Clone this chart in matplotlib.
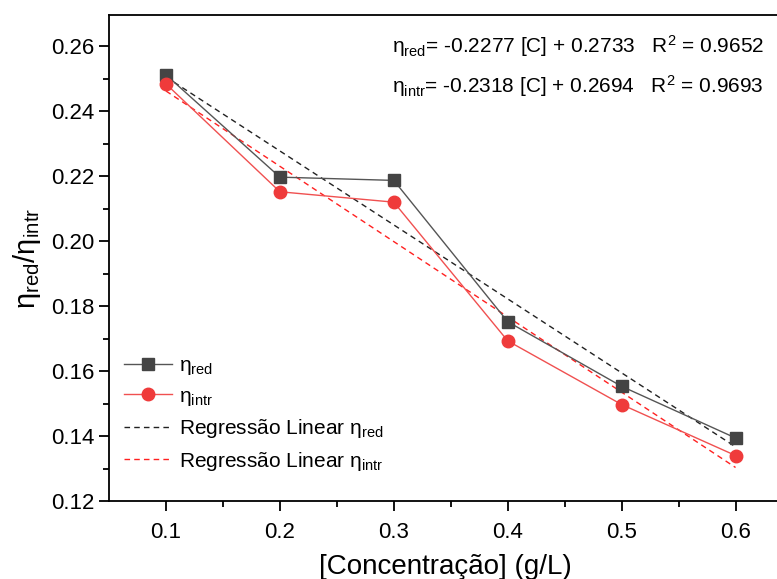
import matplotlib
matplotlib.use("Agg")
import matplotlib.pyplot as plt
import numpy as np

plt.rcParams['font.family'] = ['Liberation Sans', 'DejaVu Sans']
plt.rcParams['mathtext.fontset'] = 'custom'
plt.rcParams['mathtext.rm'] = 'Liberation Sans'
plt.rcParams['mathtext.it'] = 'Liberation Sans:italic'

conc = [0.1, 0.2, 0.3, 0.4, 0.5, 0.6]
eta_red = [0.2512, 0.2197, 0.2187, 0.1752, 0.1553, 0.1394]
eta_intr = [0.2484, 0.2152, 0.2120, 0.1693, 0.1497, 0.1340]

# linear fits from the equations on the chart
red_slope, red_icpt, red_r2 = -0.2277, 0.2733, 0.9652
intr_slope, intr_icpt, intr_r2 = -0.2318, 0.2694, 0.9693

x = np.array(conc)
RED = r'η$_{\rm red}$'
INTR = r'η$_{\rm intr}$'

fig = plt.figure(figsize=(7.77, 5.79), dpi=100)
ax = fig.add_axes([0.1403, 0.1347, 0.865, 0.8393])

ax.plot(conc, eta_red, color='#555555', lw=1, marker='s', ms=9,
        mfc='#444444', mec='#444444', label=RED, zorder=4)
ax.plot(conc, eta_intr, color='#f05050', lw=1, marker='o', ms=9,
        mfc='#ef3b3b', mec='#ef3b3b', label=INTR, zorder=4)
ax.plot(x, red_slope * x + red_icpt, color='#222222', lw=1, ls=(0, (4, 3)),
        label='Regressão Linear ' + RED, zorder=3)
ax.plot(x, intr_slope * x + intr_icpt, color='#ff2020', lw=1, ls=(0, (4, 3)),
        label='Regressão Linear ' + INTR, zorder=3)

ax.set_xlim(0.05, 0.64)
ax.set_ylim(0.12, 0.2696)
ax.set_xticks(conc)
ax.set_xticks(np.arange(0.15, 0.64, 0.1), minor=True)
ax.set_yticks(np.arange(0.12, 0.261, 0.02))
ax.set_yticks(np.arange(0.13, 0.261, 0.02), minor=True)
ax.xaxis.set_major_formatter(matplotlib.ticker.FormatStrFormatter('%.1f'))
ax.yaxis.set_major_formatter(matplotlib.ticker.FormatStrFormatter('%.2f'))
ax.tick_params(which='major', direction='out', length=7, width=1.3, labelsize=16)
ax.tick_params(which='minor', direction='out', length=4, width=1.3)
ax.tick_params(axis='x', pad=8)
for s in ax.spines.values():
    s.set_linewidth(1.3)
ax.spines['right'].set_visible(False)

ax.set_xlabel('[Concentração] (g/L)', fontsize=20, labelpad=8)
ax.set_ylabel(RED + '/' + INTR, fontsize=21, labelpad=6)

fig.text(0.505, 0.92, RED + '= %.4f [C] + %.4f   R$^2$ = %.4f' % (red_slope, red_icpt, red_r2),
         fontsize=15, ha='left', va='center')
fig.text(0.505, 0.852, INTR + '= %.4f [C] + %.4f   R$^2$ = %.4f' % (intr_slope, intr_icpt, intr_r2),
         fontsize=15, ha='left', va='center')

ax.legend(loc='lower left', bbox_to_anchor=(-0.005, 0.02), frameon=False,
          fontsize=15, handlelength=2.3, handletextpad=0.3, labelspacing=0.45)

fig.savefig('out.png', dpi=100)
